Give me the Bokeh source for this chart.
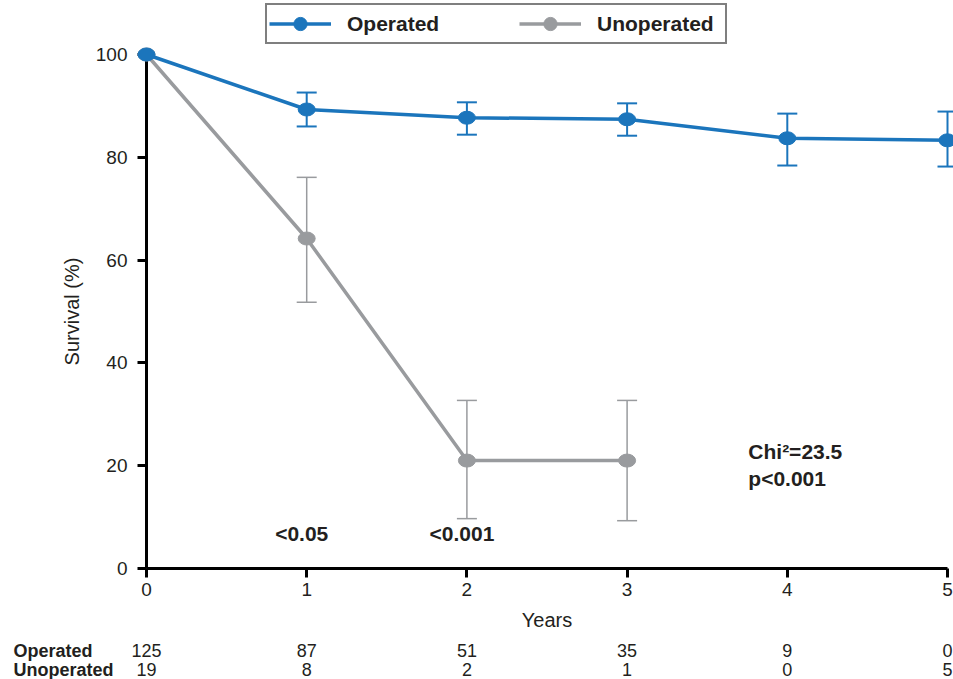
from bokeh.plotting import figure
from bokeh.layouts import column
from bokeh.models import (ColumnDataSource, Legend, LegendItem,
                          Label, Range1d, FixedTicker)
from bokeh.core.properties import value
from bokeh.embed import file_html
from bokeh.resources import INLINE

# ---------------- data ----------------
years = [0, 1, 2, 3, 4, 5]
op_surv = [100, 89.3, 87.7, 87.4, 83.7, 83.3]
op_err_years = [1, 2, 3, 4, 5]
op_upper = [92.6, 90.7, 90.5, 88.5, 88.9]
op_lower = [86.0, 84.4, 84.2, 78.4, 78.2]

unop_years = [0, 1, 2, 3]
unop_surv = [100, 64.2, 21.0, 21.0]
unop_err_years = [1, 2, 3]
unop_upper = [76.1, 32.7, 32.7]
unop_lower = [51.8, 9.7, 9.3]

op_at_risk = [125, 87, 51, 35, 9, 0]
unop_at_risk = [19, 8, 2, 1, 0, 5]

sig_years = [1, 2]
sig_labels = ["<0.05", "<0.001"]

stat_lines = ["Chi\u00b2=23.5", "p<0.001"]

y_ticks = [0, 20, 40, 60, 80, 100]
series_names = ["Operated", "Unoperated"]

# ---------------- style ----------------
BLUE = "#1b75bc"
GRAY = "#999b9e"
TXT = "#231f20"
FONT = "Liberation Sans"

# ================= legend strip (own small figure) =================
lg = figure(width=953, height=45, output_backend="svg", toolbar_location=None,
            x_range=Range1d(0, 1), y_range=Range1d(0, 1),
            min_border_left=146, min_border_right=6, min_border_top=0, min_border_bottom=0,
            x_axis_location=None, y_axis_location=None)
lg.outline_line_color = None
lg.xgrid.visible = False
lg.ygrid.visible = False
blank = ColumnDataSource(dict(x=[float("nan")], y=[float("nan")]))
items = []
for name, col in zip(series_names, [BLUE, GRAY]):
    rl = lg.line("x", "y", source=blank, line_color=col, line_width=3.5)
    rs = lg.scatter("x", "y", source=blank, marker="circle", size=19,
                    fill_color=col, line_color=col)
    items.append(LegendItem(label=name, renderers=[rl, rs]))
legend = Legend(items=items, orientation="horizontal", location=(119, 1),
                border_line_color="black", border_line_width=2,
                background_fill_color="white", background_fill_alpha=1,
                label_text_font=FONT, label_text_font_style="bold",
                label_text_font_size="21px", label_text_color=TXT,
                glyph_width=62, glyph_height=33, label_standoff=16,
                label_width=126, spacing=46, padding=2, margin=0, label_height=22)
lg.add_layout(legend, "center")

# ================= main chart =================
p = figure(width=953, height=634, output_backend="svg", toolbar_location=None,
           x_range=Range1d(0, 5), y_range=Range1d(0, 100),
           min_border_left=146, min_border_right=6, min_border_top=9, min_border_bottom=111)
p.outline_line_color = None
p.xgrid.visible = False
p.ygrid.visible = False

for ax in (p.xaxis[0], p.yaxis[0]):
    ax.axis_line_width = 3
    ax.axis_line_color = "black"
    ax.major_tick_line_width = 3
    ax.major_tick_line_color = "black"
    ax.major_tick_out = 9
    ax.major_tick_in = 0
    ax.minor_tick_line_color = None
    ax.major_label_text_font = FONT
    ax.major_label_text_font_size = "19px"
    ax.major_label_text_color = TXT
    ax.axis_label_text_font = FONT
    ax.axis_label_text_font_size = "20px"
    ax.axis_label_text_font_style = "normal"
    ax.axis_label_text_color = TXT

p.xaxis.ticker = FixedTicker(ticks=years)
p.yaxis.ticker = FixedTicker(ticks=y_ticks)
p.xaxis.axis_label = "Years"
p.yaxis.axis_label = "Survival (%)"
p.xaxis.major_label_standoff = 5
p.yaxis.major_label_standoff = 10
p.xaxis.axis_label_standoff = 10
p.yaxis.axis_label_standoff = 10


def error_bars(xs, lo, hi, color, lw):
    src = ColumnDataSource(dict(x=xs, lo=lo, hi=hi))
    p.segment(x0="x", y0="lo", x1="x", y1="hi", source=src, line_color=color,
              line_width=lw, level="overlay")
    for c in ("lo", "hi"):
        p.scatter(x="x", y=c, source=src, marker="dash", size=20, line_color=color,
                  line_width=lw, level="overlay")


# unoperated
us = ColumnDataSource(dict(x=unop_years, y=unop_surv))
error_bars(unop_err_years, unop_lower, unop_upper, GRAY, 1.5)
p.line("x", "y", source=us, line_color=GRAY, line_width=3.5, level="overlay")
p.ellipse("x", "y", source=us, width=17, height=13, width_units="screen",
          height_units="screen", fill_color=GRAY, line_color=GRAY, level="overlay")

# operated
os_ = ColumnDataSource(dict(x=years, y=op_surv))
error_bars(op_err_years, op_lower, op_upper, BLUE, 2)
p.line("x", "y", source=os_, line_color=BLUE, line_width=3.5, level="overlay")
p.ellipse("x", "y", source=os_, width=17, height=13, width_units="screen",
          height_units="screen", fill_color=BLUE, line_color=BLUE, level="overlay")

# ---------------- annotations ----------------
# pixel -> data conversions of the frame (801 px for 5 years, 514 px for 100 %)
PX_X = 5 / 801
PX_Y = 100 / 514

for xv, lab in zip(sig_years, sig_labels):
    p.add_layout(Label(x=xv - 5 * PX_X, y=(568 - 533) * PX_Y, text=lab,
                       text_align="center", text_baseline="middle",
                       text_font=FONT, text_font_style="bold",
                       text_font_size="21px", text_color=TXT))

for i, s in enumerate(stat_lines):
    p.add_layout(Label(x=4 - 39 * PX_X, y=(568 - 451 - 27 * i) * PX_Y, text=s,
                       text_align="left", text_baseline="middle",
                       text_font=FONT, text_font_style="bold",
                       text_font_size="21px", text_color=TXT))

# numbers at risk table (text glyphs below the frame)
row_y = [(568 - 650) * PX_Y, (568 - 669) * PX_Y]
name_src = ColumnDataSource(dict(x=[-133 * PX_X] * 2, y=row_y, t=series_names))
p.text("x", "y", text="t", source=name_src, text_align="left", text_baseline="middle",
       text_font=value(FONT), text_font_style=value("bold"),
       text_font_size=value("18px"), text_color=TXT, level="overlay")

cnt_x, cnt_y, cnt_t = [], [], []
for ry, counts in zip(row_y, [op_at_risk, unop_at_risk]):
    for xv, c in zip(years, counts):
        cnt_x.append(xv)
        cnt_y.append(ry)
        cnt_t.append(str(c))
cnt_src = ColumnDataSource(dict(x=cnt_x, y=cnt_y, t=cnt_t))
p.text("x", "y", text="t", source=cnt_src, text_align="center", text_baseline="middle",
       text_font=value(FONT), text_font_size=value("18px"), text_color=TXT,
       level="overlay")

layout = column(lg, p, spacing=0)
open("out.html", "w").write(file_html(layout, INLINE))
